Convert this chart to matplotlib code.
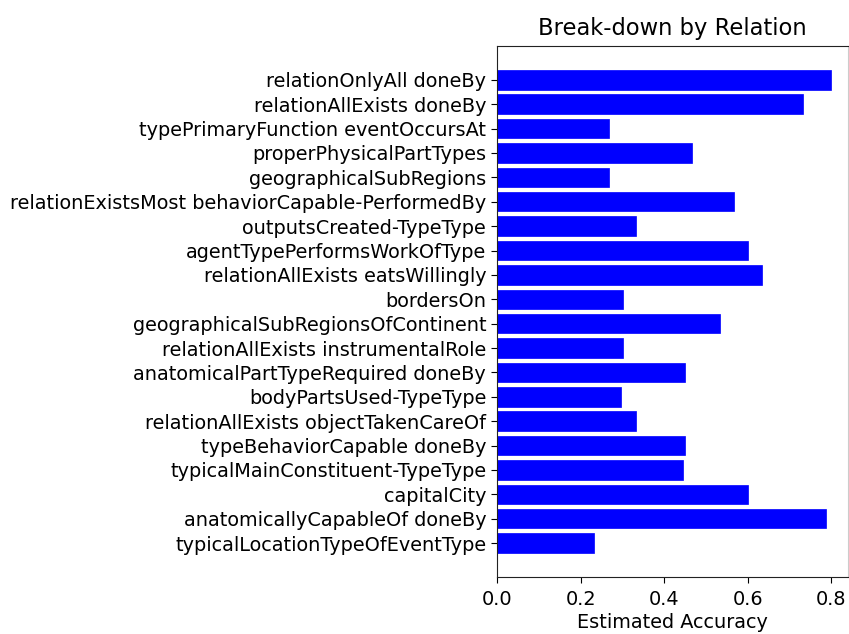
import matplotlib
matplotlib.use("Agg")
import matplotlib.pyplot as plt
import numpy as np

relations = [
    "relationOnlyAll doneBy",
    "relationAllExists doneBy",
    "typePrimaryFunction eventOccursAt",
    "properPhysicalPartTypes",
    "geographicalSubRegions",
    "relationExistsMost behaviorCapable-PerformedBy",
    "outputsCreated-TypeType",
    "agentTypePerformsWorkOfType",
    "relationAllExists eatsWillingly",
    "bordersOn",
    "geographicalSubRegionsOfContinent",
    "relationAllExists instrumentalRole",
    "anatomicalPartTypeRequired doneBy",
    "bodyPartsUsed-TypeType",
    "relationAllExists objectTakenCareOf",
    "typeBehaviorCapable doneBy",
    "typicalMainConstituent-TypeType",
    "capitalCity",
    "anatomicallyCapableOf doneBy",
    "typicalLocationTypeOfEventType",
]
accuracy = [0.800, 0.733, 0.267, 0.467, 0.267, 0.567, 0.333, 0.600, 0.633, 0.300,
            0.533, 0.300, 0.450, 0.296, 0.333, 0.450, 0.445, 0.600, 0.786, 0.232]
xticks = [0.0, 0.2, 0.4, 0.6, 0.8]
xtick_labels = ["0.0", "0.2", "0.4", "0.6", "0.8"]

fig = plt.figure(figsize=(8.49, 6.34), dpi=100)
ax = fig.add_axes([0.5857, 0.09, 0.4133, 0.8375])
y = np.arange(len(relations))
ax.barh(y, accuracy, height=0.8, color="#0000ff", edgecolor="#0000ff", linewidth=0.5)
ax.set_yticks(y)
ax.set_yticklabels(relations, fontsize=13.9)
ax.invert_yaxis()
ax.set_xticks(xticks)
ax.set_xticklabels(xtick_labels, fontsize=13.9)
ax.tick_params(axis="x", pad=5)
ax.set_xlabel("Estimated Accuracy", fontsize=13.9, labelpad=3)
ax.set_title("Break-down by Relation", fontsize=16.3, pad=8)
ax.tick_params(length=4.5)
for s in ax.spines.values():
    s.set_color("#222222")
ax.spines["right"].set_color("#cccccc")
fig.savefig("out.png", dpi=100)
